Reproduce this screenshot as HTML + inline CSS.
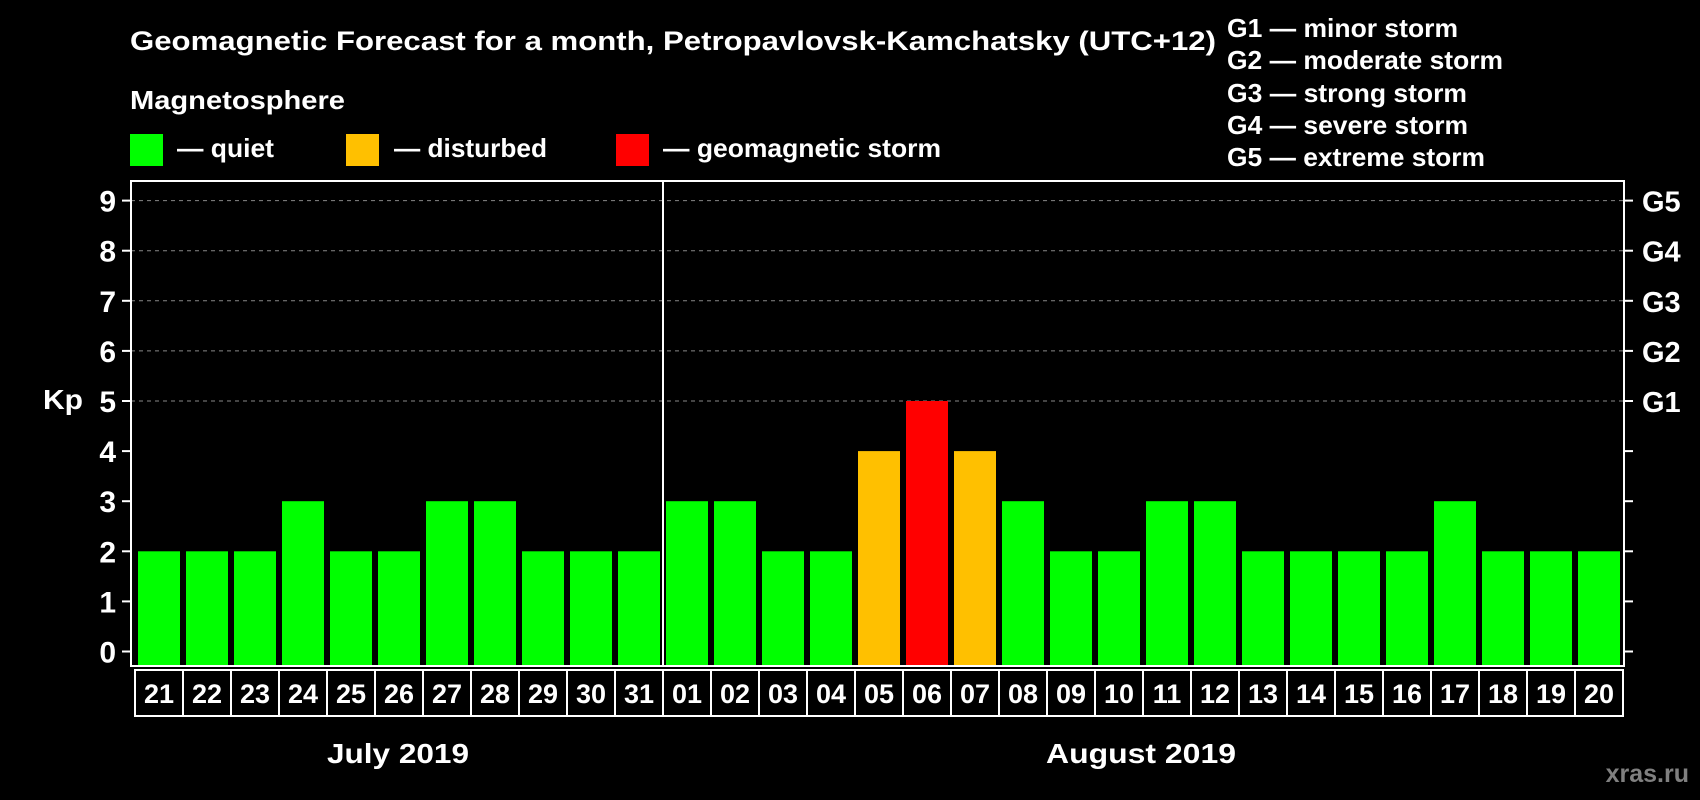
<!DOCTYPE html>
<html><head><meta charset="utf-8"><style>
html,body{margin:0;padding:0;background:#000;}
svg{display:block;font-family:"Liberation Sans",Arial,sans-serif;font-weight:bold;}
</style></head><body>
<svg id="chart" width="1700" height="800" viewBox="0 0 1700 800">
<rect width="1700" height="800" fill="#000"/>
<text x="130" y="50" font-size="27" fill="#fff" textLength="1086" lengthAdjust="spacingAndGlyphs">Geomagnetic Forecast for a month, Petropavlovsk-Kamchatsky (UTC+12)</text>
<text x="130" y="109" font-size="26" fill="#fff" textLength="215" lengthAdjust="spacingAndGlyphs">Magnetosphere</text>
<rect x="130" y="134" width="33" height="32" fill="#00ff00"/>
<text x="177" y="157" font-size="26" fill="#fff" textLength="97" lengthAdjust="spacingAndGlyphs">— quiet</text>
<rect x="346" y="134" width="33" height="32" fill="#ffc000"/>
<text x="394" y="157" font-size="26" fill="#fff" textLength="153" lengthAdjust="spacingAndGlyphs">— disturbed</text>
<rect x="616" y="134" width="33" height="32" fill="#ff0000"/>
<text x="663" y="157" font-size="26" fill="#fff" textLength="278" lengthAdjust="spacingAndGlyphs">— geomagnetic storm</text>
<g font-size="26" fill="#fff">
<text x="1227" y="37" textLength="231" lengthAdjust="spacingAndGlyphs">G1 — minor storm</text>
<text x="1227" y="69" textLength="276" lengthAdjust="spacingAndGlyphs">G2 — moderate storm</text>
<text x="1227" y="102" textLength="240" lengthAdjust="spacingAndGlyphs">G3 — strong storm</text>
<text x="1227" y="134" textLength="241" lengthAdjust="spacingAndGlyphs">G4 — severe storm</text>
<text x="1227" y="166" textLength="258" lengthAdjust="spacingAndGlyphs">G5 — extreme storm</text>
</g>
<text x="43" y="409" font-size="28" fill="#fff" textLength="40" lengthAdjust="spacingAndGlyphs">Kp</text>
<text x="398" y="763" font-size="28" fill="#fff" text-anchor="middle" textLength="142" lengthAdjust="spacingAndGlyphs">July 2019</text>
<text x="1141" y="763" font-size="28" fill="#fff" text-anchor="middle" textLength="190" lengthAdjust="spacingAndGlyphs">August 2019</text>
<text x="1689" y="782" font-size="25" fill="#808080" text-anchor="end">xras.ru</text>
<g id="plot"></g>
</svg>
<script>
const days = ["21","22","23","24","25","26","27","28","29","30","31","01","02","03","04","05","06","07","08","09","10","11","12","13","14","15","16","17","18","19","20"];
const kp = [2,2,2,3,2,2,3,3,2,2,2,3,3,2,2,4,5,4,3,2,2,3,3,2,2,2,2,3,2,2,2];
const yTicks = [0,1,2,3,4,5,6,7,8,9];
const gLabels = ["G1","G2","G3","G4","G5"];
const gLevels = [5,6,7,8,9];

const NS="http://www.w3.org/2000/svg";
const plot=document.getElementById('plot');
const L=131,R=1624,T=181,B=666;
const y0=651.5, unit=50.1;
const yS=v=>y0-v*unit;
const x0=135, step=(R-1-x0)/days.length;
const xS=i=>x0+i*step;
function mk(t,a){const e=document.createElementNS(NS,t);for(const k in a)e.setAttribute(k,a[k]);plot.appendChild(e);return e;}
function color(v){return v>=5?'#ff0000':(v>=4?'#ffc000':'#00ff00');}

yTicks.forEach(v=>{
  const y=yS(v);
  if(v>=5){const g=mk('line',{x1:L,x2:R,y1:y,y2:y,stroke:'#888','stroke-dasharray':'4,4','stroke-width':1});
  
  }
  const t1=mk('line',{x1:L-9,x2:L,y1:y,y2:y,stroke:'#fff','stroke-width':2});
  
  
  const t2=mk('line',{x1:R,x2:R+9,y1:y,y2:y,stroke:'#fff','stroke-width':2});
  
  
  const lb=mk('text',{x:116,y:y+11,'font-size':30,fill:'#fff','text-anchor':'end'});
  lb.textContent=v;
  
  
});
gLabels.forEach((g,i)=>{
  const lb=mk('text',{x:1642,y:yS(gLevels[i])+11,'font-size':29,fill:'#fff'});
  lb.textContent=g;
  
  
});
kp.forEach((v,i)=>{
  const b=mk('rect',{x:xS(i)+3,y:yS(v),width:step-6,height:B-yS(v),fill:color(v)});
  
  
  const c=mk('rect',{x:xS(i),y:B+4,width:step,height:46,fill:'none',stroke:'#fff','stroke-width':2});
  
  
  const t=mk('text',{x:xS(i)+step/2,y:B+37,'font-size':27,fill:'#fff','text-anchor':'middle'});
  t.textContent=days[i];
  
  
});
const fr=mk('rect',{x:L,y:T,width:R-L,height:B-T,fill:'none',stroke:'#fff','stroke-width':2});


const sepIdx=days.indexOf("01");
const sx=xS(sepIdx);
const sep=mk('line',{x1:sx,x2:sx,y1:T,y2:B,stroke:'#fff','stroke-width':2});


</script>
</body></html>
